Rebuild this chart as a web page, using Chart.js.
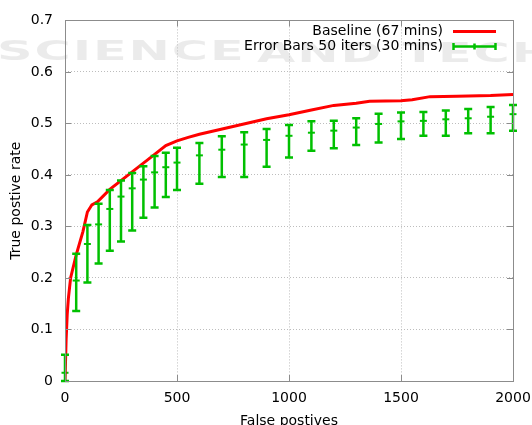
<!DOCTYPE html>
<html>
<head>
<meta charset="utf-8">
<script src="https://cdn.jsdelivr.net/npm/chart.js@4/dist/chart.umd.min.js"></script>
<style>
  html, body { margin: 0; padding: 0; background: #fff; overflow: hidden; }
  #wrap { width: 532px; height: 425px; overflow: hidden; position: relative; }
  #wrap canvas { position: absolute; left: 0; top: 0; }
</style>
</head>
<body>
<div id="wrap"><canvas id="roc" width="545" height="432"></canvas></div>
<script>
// baseline curve (red)
const baseX = [0, 5, 10, 15, 25, 50, 80, 100, 120, 145, 200, 300, 400, 450, 500, 550, 600, 750, 900, 1000, 1100, 1200, 1300, 1360, 1500, 1550, 1630, 1750, 1900, 2000];
const baseY = [0, 0.08, 0.13, 0.16, 0.2, 0.245, 0.29, 0.328, 0.342, 0.348, 0.372, 0.406, 0.44, 0.457, 0.466, 0.473, 0.479, 0.494, 0.509, 0.517, 0.526, 0.535, 0.539, 0.543, 0.544, 0.546, 0.552, 0.553, 0.554, 0.556];

// error bars, 50 iters (green)
const errX = [0, 50, 100, 150, 200, 250, 300, 350, 400, 450, 500, 600, 700, 800, 900, 1000, 1100, 1200, 1300, 1400, 1500, 1600, 1700, 1800, 1900, 2000];
const errMean = [0.016, 0.195, 0.266, 0.304, 0.334, 0.358, 0.374, 0.391, 0.405, 0.415, 0.424, 0.438, 0.449, 0.459, 0.468, 0.476, 0.482, 0.486, 0.492, 0.499, 0.504, 0.505, 0.508, 0.510, 0.513, 0.518];
const errHigh = [0.051, 0.247, 0.303, 0.344, 0.371, 0.389, 0.404, 0.417, 0.437, 0.443, 0.453, 0.462, 0.475, 0.483, 0.489, 0.497, 0.504, 0.505, 0.510, 0.519, 0.521, 0.522, 0.525, 0.528, 0.532, 0.536];
const errLow = [0.0, 0.136, 0.191, 0.228, 0.253, 0.271, 0.292, 0.317, 0.337, 0.357, 0.371, 0.383, 0.396, 0.396, 0.416, 0.434, 0.447, 0.452, 0.458, 0.463, 0.470, 0.476, 0.476, 0.481, 0.481, 0.486];

const xTicks = [0, 500, 1000, 1500, 2000];
const yTicks = [0, 0.1, 0.2, 0.3, 0.4, 0.5, 0.6, 0.7];

const RED = '#ff0000';
const GREEN = '#00c000';
const FONT = "'DejaVu Sans', Verdana, sans-serif";

// faint publisher watermark behind everything
const watermark = {
    id: 'watermark',
    beforeDraw(chart) {
        const c = chart.ctx;
        c.save();
        c.fillStyle = 'rgba(0,0,0,0.08)';
        c.font = 'bold 26px ' + FONT;
        c.textBaseline = 'middle';
        c.letterSpacing = '1px';
        c.scale(1.9, 1);
        c.fillText('SCIENCE', -3 / 1.9, 53);
        c.fillText('AND TECHNOLOGY', 257 / 1.9, 55);
        c.restore();
    }
};

// box border, inward ticks, error bars, legend
const extras = {
    id: 'extras',
    afterDatasetsDraw(chart) {
        const c = chart.ctx;
        const xs = chart.scales.x, ys = chart.scales.y;
        c.save();
        c.strokeStyle = GREEN;
        c.lineWidth = 2.5;
        errX.forEach((v, i) => {
            const px = xs.getPixelForValue(v);
            const hi = ys.getPixelForValue(errHigh[i]);
            const lo = ys.getPixelForValue(errLow[i]);
            c.beginPath();
            c.moveTo(px, hi); c.lineTo(px, lo);
            c.moveTo(px - 4, hi); c.lineTo(px + 4, hi);
            c.moveTo(px - 4, lo); c.lineTo(px + 4, lo);
            c.stroke();
        });
        c.restore();
    },
    afterDraw(chart) {
        const c = chart.ctx;
        const a = chart.chartArea;
        const xs = chart.scales.x, ys = chart.scales.y;
        c.save();
        // border
        c.strokeStyle = '#8c8c8c';
        c.lineWidth = 1;
        c.strokeRect(Math.round(a.left) + 0.5, Math.round(a.top) + 0.5, Math.round(a.right - a.left), Math.round(a.bottom - a.top));
        // inward tick marks (mirrored)
        c.beginPath();
        yTicks.forEach(v => {
            const py = Math.round(ys.getPixelForValue(v)) + 0.5;
            c.moveTo(a.left, py); c.lineTo(a.left + 6, py);
            c.moveTo(a.right, py); c.lineTo(a.right - 6, py);
        });
        xTicks.forEach(v => {
            const px = Math.round(xs.getPixelForValue(v)) + 0.5;
            c.moveTo(px, a.bottom); c.lineTo(px, a.bottom - 6);
            c.moveTo(px, a.top); c.lineTo(px, a.top + 6);
        });
        c.stroke();

        // legend: text right aligned, sample on the right
        c.font = '14px ' + FONT;
        c.fillStyle = '#000';
        c.textAlign = 'right';
        c.textBaseline = 'middle';
        const ds = chart.data.datasets;
        c.fillText(ds[0].label, 443, 31);
        c.fillText(ds[1].label, 443, 46);
        c.strokeStyle = RED;
        c.lineWidth = 3;
        c.beginPath(); c.moveTo(453, 31.5); c.lineTo(496, 31.5); c.stroke();
        c.strokeStyle = GREEN;
        c.lineWidth = 2.5;
        c.beginPath();
        c.moveTo(453, 46.5); c.lineTo(496, 46.5);
        c.moveTo(453.5, 43); c.lineTo(453.5, 50);
        c.moveTo(495.5, 43); c.lineTo(495.5, 50);
        c.moveTo(474.5, 43.5); c.lineTo(474.5, 49.5);
        c.stroke();
        c.restore();
    }
};

const ctx = document.getElementById('roc').getContext('2d');
const rocChart = new Chart(ctx, {
    type: 'scatter',
    data: {
        datasets: [
            {
                label: 'Baseline (67 mins)',
                data: baseX.map((x, i) => ({ x: x, y: baseY[i] })),
                showLine: true,
                borderColor: RED,
                borderWidth: 3,
                pointRadius: 0,
                tension: 0,
                order: 1
            },
            {
                label: 'Error Bars 50 iters (30 mins)',
                data: errX.map((x, i) => ({ x: x, y: errMean[i] })),
                showLine: false,
                pointStyle: 'line',
                pointRadius: 3.5,
                borderColor: GREEN,
                backgroundColor: GREEN,
                pointBorderWidth: 2,
                clip: false,
                order: 2
            }
        ]
    },
    options: {
        responsive: false,
        animation: false,
        devicePixelRatio: 1,
        layout: { padding: { top: 19, right: 32, left: 0, bottom: 0 } },
        plugins: { legend: { display: false }, tooltip: { enabled: false } },
        scales: {
            x: {
                type: 'linear',
                min: 0, max: 2000,
                afterBuildTicks: s => { s.ticks = xTicks.map(v => ({ value: v })); },
                afterFit: s => { s.height = 51; },
                border: { display: false, dash: [1, 2] },
                grid: { color: '#bdbdbd', drawTicks: false },
                ticks: { color: '#000', font: { family: FONT, size: 14 }, padding: 9, maxRotation: 0, callback: v => String(v) },
                title: { display: true, text: 'False postives', color: '#000', font: { family: FONT, size: 14 }, padding: { top: 0, bottom: 2 } }
            },
            y: {
                type: 'linear',
                min: 0, max: 0.7,
                afterBuildTicks: s => { s.ticks = yTicks.map(v => ({ value: v })); },
                afterFit: s => { s.width = 65; },
                border: { display: false, dash: [1, 2] },
                grid: { color: '#bdbdbd', drawTicks: false },
                ticks: { color: '#000', font: { family: FONT, size: 14 }, padding: 12, callback: v => String(+v.toFixed(1)) },
                title: { display: true, text: 'True postive rate', color: '#000', font: { family: FONT, size: 14 }, padding: { top: 8, bottom: 0 } }
            }
        }
    },
    plugins: [watermark, extras]
});
</script>
</body>
</html>
